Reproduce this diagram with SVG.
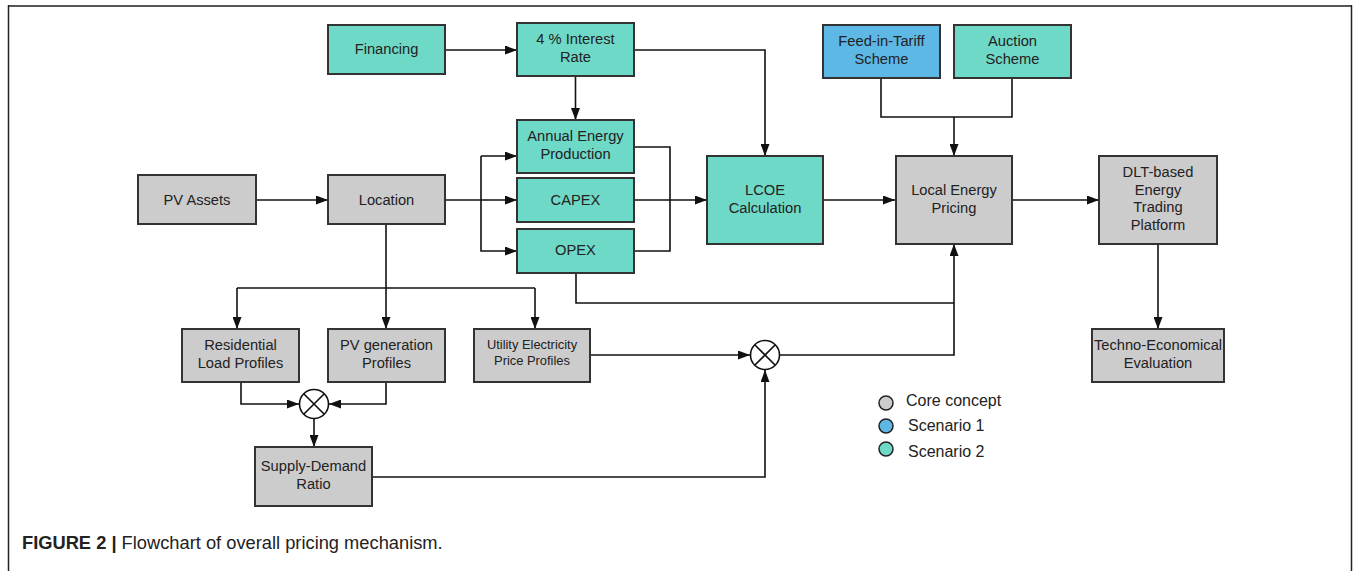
<svg xmlns="http://www.w3.org/2000/svg" width="1356" height="571" viewBox="0 0 1356 571">
<style>
.n{stroke:#333;stroke-width:2}
.core{fill:#cccccc}
.s1{fill:#5db8e6}
.s2{fill:#6fd9c8}
text{font-family:"Liberation Sans",Arial,sans-serif;font-size:14.7px;fill:#222;text-anchor:middle}
.c{fill:none;stroke:#111;stroke-width:1.6}
.ca{fill:none;stroke:#111;stroke-width:1.6;marker-end:url(#ah)}
</style>
<defs>
<marker id="ah" viewBox="0 0 12 9" refX="12" refY="4.5" markerWidth="12" markerHeight="9" markerUnits="userSpaceOnUse" orient="auto">
<path d="M0,0 L12,4.5 L0,9 Z" fill="#111"/>
</marker>
</defs>
<rect width="1356" height="571" fill="#fff"/>
<g id="frame" fill="none">
<line x1="8" y1="6" x2="1352" y2="6" stroke="#555" stroke-width="2"/>
<line x1="8.5" y1="5" x2="8.5" y2="571" stroke="#222" stroke-width="1.5"/>
<line x1="1351.5" y1="5" x2="1351.5" y2="571" stroke="#222" stroke-width="1.5"/>
</g>
<g id="connectors">
<path class="ca" d="M445,50 H517"/>
<path class="ca" d="M575.5,76 V120"/>
<path class="ca" d="M634,50 H765 V156"/>
<path class="ca" d="M256,200 H328"/>
<path class="c" d="M445,200 H481"/>
<path class="ca" d="M481,200 H517"/>
<path class="ca" d="M481,156 V251 H517"/>
<path class="ca" d="M481,156 H517"/>
<path class="c" d="M634,147 H670 V251 H634"/>
<path class="ca" d="M634,200 H707"/>
<path class="ca" d="M823,200 H895"/>
<path class="ca" d="M1012,200 H1099"/>
<path class="c" d="M881,78 V117 H1012 V78"/>
<path class="ca" d="M954,117 V156"/>
<path class="ca" d="M1158,244 V329" stroke="#555"/>
<path class="c" d="M576,273 V303 H954"/>
<path class="ca" d="M780,355 H954 V244"/>
<path class="c" d="M386,224 V288"/>
<path class="c" d="M237,288 H535"/>
<path class="ca" d="M237,288 V329"/>
<path class="ca" d="M386,288 V329"/>
<path class="ca" d="M535,288 V329"/>
<path class="ca" d="M241,382 V404 H299"/>
<path class="ca" d="M386,382 V404 H329"/>
<path class="ca" d="M314,419 V447"/>
<path class="ca" d="M372,477 H765 V370"/>
<path class="ca" d="M590,355 H750"/>
</g>
<g id="financing"><rect class="n s2" x="328" y="25" width="117" height="49"/><text x="386.5" y="54">Financing</text></g>
<g id="interest"><rect class="n s2" x="517" y="23" width="117" height="53"/><text x="575.5" y="44">4 % Interest</text><text x="575.5" y="62">Rate</text></g>
<g id="annual"><rect class="n s2" x="517" y="120" width="117" height="53"/><text x="575.5" y="141">Annual Energy</text><text x="575.5" y="159">Production</text></g>
<g id="capex"><rect class="n s2" x="517" y="178" width="117" height="44"/><text x="575.5" y="205">CAPEX</text></g>
<g id="opex"><rect class="n s2" x="517" y="229" width="117" height="44"/><text x="575.5" y="255">OPEX</text></g>
<g id="lcoe"><rect class="n s2" x="707" y="156" width="116" height="88"/><text x="765" y="195">LCOE</text><text x="765" y="213">Calculation</text></g>
<g id="fit"><rect class="n s1" x="823" y="25" width="117" height="53"/><text x="881.5" y="46">Feed-in-Tariff</text><text x="881.5" y="64">Scheme</text></g>
<g id="auction"><rect class="n s2" x="954" y="25" width="117" height="53"/><text x="1012.5" y="46">Auction</text><text x="1012.5" y="64">Scheme</text></g>
<g id="local"><rect class="n core" x="896" y="156" width="116" height="88"/><text x="954" y="195">Local Energy</text><text x="954" y="213">Pricing</text></g>
<g id="dlt"><rect class="n core" x="1099" y="156" width="118" height="88"/><text x="1158" y="177">DLT-based</text><text x="1158" y="195">Energy</text><text x="1158" y="212">Trading</text><text x="1158" y="230">Platform</text></g>
<g id="techno"><rect class="n core" x="1092" y="329" width="132" height="53"/><text x="1158" y="350">Techno-Economical</text><text x="1158" y="368">Evaluation</text></g>
<g id="pvassets"><rect class="n core" x="138" y="175" width="118" height="49"/><text x="197" y="205">PV Assets</text></g>
<g id="location"><rect class="n core" x="328" y="175" width="117" height="49"/><text x="386.5" y="205">Location</text></g>
<g id="residential"><rect class="n core" x="182" y="329" width="117" height="53"/><text x="240.5" y="350">Residential</text><text x="240.5" y="368">Load Profiles</text></g>
<g id="pvgen"><rect class="n core" x="328" y="329" width="117" height="53"/><text x="386.5" y="350">PV generation</text><text x="386.5" y="368">Profiles</text></g>
<g id="utility"><rect class="n core" x="474" y="329" width="116" height="53"/><text x="532" y="349" style="font-size:12.9px">Utility Electricity</text><text x="532" y="365" style="font-size:12.9px">Price Profiles</text></g>
<g id="supply"><rect class="n core" x="255" y="447" width="117" height="59"/><text x="313.5" y="471">Supply-Demand</text><text x="313.5" y="489">Ratio</text></g>
<g id="mult1"><circle cx="314" cy="404" r="14.5" fill="#fff" stroke="#111" stroke-width="1.6"/><path d="M303.7,393.7 L324.3,414.3 M324.3,393.7 L303.7,414.3" stroke="#111" stroke-width="1.6"/></g>
<g id="mult2"><circle cx="765" cy="355" r="14.5" fill="#fff" stroke="#111" stroke-width="1.6"/><path d="M754.7,344.7 L775.3,365.3 M775.3,344.7 L754.7,365.3" stroke="#111" stroke-width="1.6"/></g>
<g id="legend">
<circle cx="886" cy="403" r="7" class="core" stroke="#222" stroke-width="1.5"/>
<circle cx="886" cy="426" r="7" class="s1" stroke="#222" stroke-width="1.5"/>
<circle cx="886" cy="449" r="7" class="s2" stroke="#222" stroke-width="1.5"/>
<text x="906" y="406" style="text-anchor:start;font-size:16px">Core concept</text>
<text x="908" y="431" style="text-anchor:start;font-size:16px">Scenario 1</text>
<text x="908" y="457" style="text-anchor:start;font-size:16px">Scenario 2</text>
</g>
<g id="caption">
<text x="22" y="549" style="text-anchor:start;font-size:18.3px"><tspan font-weight="bold">FIGURE 2 |</tspan> Flowchart of overall pricing mechanism.</text>
</g>
</svg>
